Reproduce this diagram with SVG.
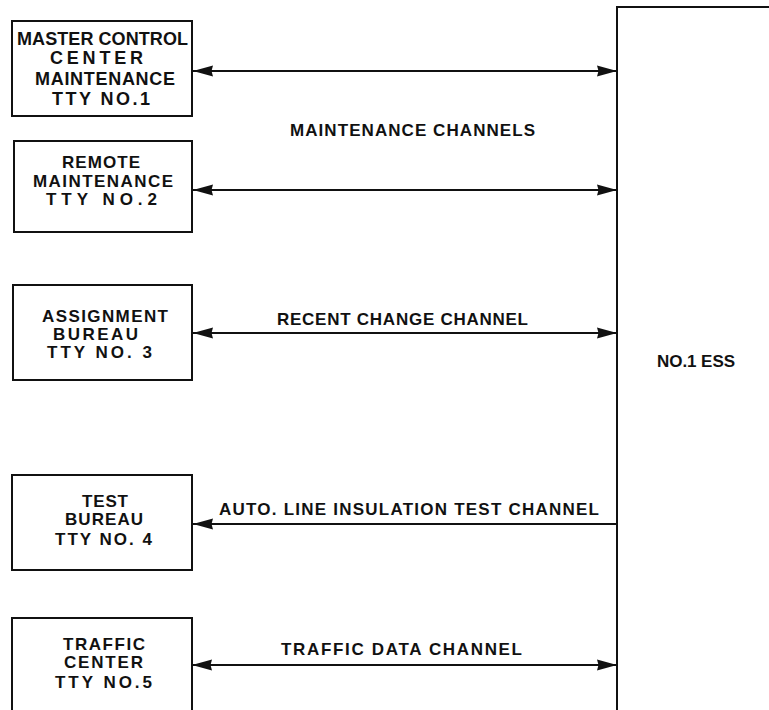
<svg xmlns="http://www.w3.org/2000/svg" width="769" height="710" viewBox="0 0 769 710">
<style>
  .box { fill: #fff; stroke: #111; stroke-width: 2; }
  .lbl { font-family: "Liberation Sans", Arial, sans-serif; font-weight: bold; font-size: 17px; fill: #111; }
  .big { font-size: 18px; }
  .conn { stroke: #111; stroke-width: 2; fill: none; }
</style>
<defs>
  <marker id="ah" markerUnits="userSpaceOnUse" markerWidth="21" markerHeight="12" refX="20" refY="6" orient="auto-start-reverse" viewBox="0 0 21 12">
    <path d="M0,0.5 L20,6 L0,11.5 L1.5,6 z" fill="#111"/>
  </marker>
</defs>
<rect width="769" height="710" fill="#fff"/>

<g id="ess">
  <path class="box" d="M617,712 V7 H771" fill="none"/>
  <text class="lbl" x="657" y="367" textLength="78" lengthAdjust="spacing">NO.1 ESS</text>
</g>

<g id="tty1">
  <rect class="box" x="12" y="21" width="180" height="95"/>
  <text class="lbl big" x="17" y="45" textLength="171" lengthAdjust="spacing">MASTER CONTROL</text>
  <text class="lbl big" x="50" y="63.5" textLength="93" lengthAdjust="spacing">CENTER</text>
  <text class="lbl big" x="35" y="85" textLength="140" lengthAdjust="spacing">MAINTENANCE</text>
  <text class="lbl big" x="52" y="105" textLength="98" lengthAdjust="spacing">TTY NO.1</text>
</g>

<g id="tty2">
  <rect class="box" x="14" y="141" width="178" height="91"/>
  <text class="lbl" x="62" y="168" textLength="78" lengthAdjust="spacing">REMOTE</text>
  <text class="lbl" x="33" y="187" textLength="140" lengthAdjust="spacing">MAINTENANCE</text>
  <text class="lbl" x="46" y="205" textLength="111" lengthAdjust="spacing">TTY NO.2</text>
</g>

<g id="tty3">
  <rect class="box" x="13" y="285" width="179" height="95"/>
  <text class="lbl" x="42" y="321.5" textLength="126" lengthAdjust="spacing">ASSIGNMENT</text>
  <text class="lbl" x="53" y="340" textLength="85" lengthAdjust="spacing">BUREAU</text>
  <text class="lbl" x="47" y="358" textLength="105" lengthAdjust="spacing">TTY NO. 3</text>
</g>

<g id="tty4">
  <rect class="box" x="12" y="475" width="180" height="95"/>
  <text class="lbl" x="82" y="506.5" textLength="46" lengthAdjust="spacing">TEST</text>
  <text class="lbl" x="65" y="525" textLength="78" lengthAdjust="spacing">BUREAU</text>
  <text class="lbl" x="55" y="545" textLength="97" lengthAdjust="spacing">TTY NO. 4</text>
</g>

<g id="tty5">
  <path class="box" d="M12,712 V618 H192 V712"/>
  <text class="lbl" x="63" y="650" textLength="82" lengthAdjust="spacing">TRAFFIC</text>
  <text class="lbl" x="64" y="668" textLength="79" lengthAdjust="spacing">CENTER</text>
  <text class="lbl" x="55" y="688" textLength="97" lengthAdjust="spacing">TTY NO.5</text>
</g>

<g id="connectors">
  <line class="conn" x1="193" y1="71" x2="617" y2="71" marker-start="url(#ah)" marker-end="url(#ah)"/>
  <line class="conn" x1="193" y1="190" x2="617" y2="190" marker-start="url(#ah)" marker-end="url(#ah)"/>
  <line class="conn" x1="193" y1="333" x2="617" y2="333" marker-start="url(#ah)" marker-end="url(#ah)"/>
  <line class="conn" x1="617" y1="524" x2="193" y2="524" marker-end="url(#ah)"/>
  <line class="conn" x1="192" y1="665" x2="617" y2="665" marker-start="url(#ah)" marker-end="url(#ah)"/>
  <text class="lbl" x="290" y="136" textLength="245" lengthAdjust="spacing">MAINTENANCE CHANNELS</text>
  <text class="lbl" x="277" y="325" textLength="251" lengthAdjust="spacing">RECENT CHANGE CHANNEL</text>
  <text class="lbl" x="219" y="515" textLength="380" lengthAdjust="spacing">AUTO. LINE INSULATION TEST CHANNEL</text>
  <text class="lbl" x="281" y="655" textLength="241" lengthAdjust="spacing">TRAFFIC DATA CHANNEL</text>
</g>
</svg>
